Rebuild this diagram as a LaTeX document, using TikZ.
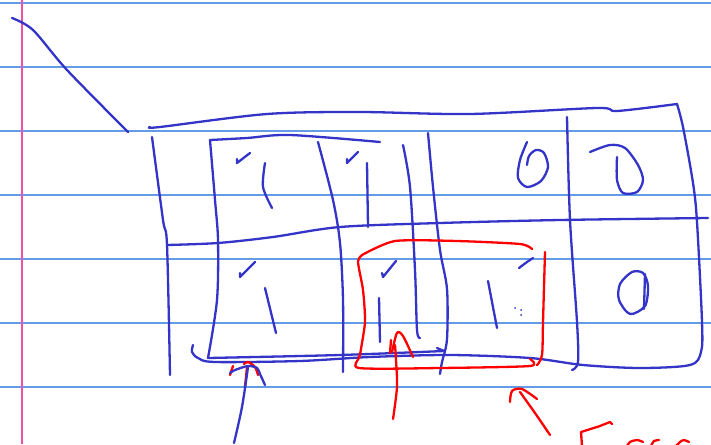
\documentclass[tikz,border=0pt]{standalone}
\definecolor{inkblue}{RGB}{52,52,200}
\definecolor{inkred}{RGB}{255,0,0}
\definecolor{ruleblue}{RGB}{100,155,230}
\definecolor{marginpink}{RGB}{240,80,170}
\begin{document}
\begin{tikzpicture}[x=1pt,y=-1pt,
  ink/.style={draw=inkblue,line width=2.3pt,line cap=round,line join=round},
  rink/.style={draw=inkred,line width=2.3pt,line cap=round,line join=round},
  ruled/.style={draw=ruleblue,line width=1.3pt},
  marginline/.style={draw=marginpink,line width=1.8pt}]
\useasboundingbox (0,0) rectangle (711,444);
\fill[white] (0,0) rectangle (711,444);
% paper
\foreach \y in {3,67,131,195,259,323,387} \draw[ruled] (0,\y) -- (711,\y);
\draw[marginline] (22,0) -- (22,444);

% diagonal stroke
\draw[ink] plot[smooth] coordinates {(12,18) (33,30) (67,70) (128,132)};

% outer box: top, right side and bottom
\draw[ink] plot[smooth] coordinates {(150,127) (160,127) (267,114) (360,112) (470,114) (597,108) (617,111) (677,104)};
\draw[ink] plot[smooth,tension=0.5] coordinates {(677,104) (683,127) (693,183) (697,222) (702,322) (701,352) (690,365) (640,368) (583,365) (530,358) (450,355) (370,357) (300,361) (215,362) (198,358) (192,352) (193,345)};
% outer left side
\draw[ink] plot[smooth] coordinates {(152,137) (163,220) (167,245) (170,375)};
% middle horizontal
\draw[ink] plot[smooth] coordinates {(167,245) (218,243) (273,237) (340,227) (440,223) (560,220) (708,218)};

% inner box
\draw[ink] plot[smooth] coordinates {(210,140) (247,138) (290,135) (380,142)};
\draw[ink] plot[smooth] coordinates {(210,140) (215,200) (218,240) (217,300) (208,358)};
\draw[ink] plot[smooth] coordinates {(208,358) (340,355) (444,351)};
\draw[ink] (437,348) -- (444,351);

% vertical dividers
\draw[ink] plot[smooth] coordinates {(318,142) (333,200) (340,243) (343,300) (343,372)};
\draw[ink] (367,163) -- (368,227);
\draw[ink] plot[smooth] coordinates {(403,145) (410,187) (415,270) (417,330) (420,338)};
\draw[ink] plot[smooth] coordinates {(428,133) (433,187) (440,250) (447,289) (447,339) (442,362) (440,374)};
\draw[ink] plot[smooth] coordinates {(567,117) (570,220) (577,322) (578,362) (572,370)};

% check marks
\draw[ink] (237,159) -- (237,163) -- (250,153);
\draw[ink] (347,159) -- (347,163) -- (358,152);
\draw[ink] (240,273) -- (240,277) -- (255,262);
\draw[ink] (382,273) -- (383,277) -- (396,261);
\draw[ink] plot[smooth] coordinates {(519,268) (527,262) (533,258)};

% ones
\draw[ink] plot[smooth] coordinates {(265,163) (263,187) (272,208)};
\draw[ink] (265,288) -- (276,333);
\draw[ink] (379,298) -- (380,342);
\draw[ink] (488,281) -- (497,328);
\fill[inkblue] (515,308) circle (1pt) (521,310) circle (1pt) (521,315) circle (1pt);

% zeros
\draw[ink] plot[smooth] coordinates {(527,142) (520,160) (518,178) (527,187) (541,181) (548,167) (544,153) (536,150) (529,156) (527,165)};
\draw[ink] plot[smooth] coordinates {(590,152) (610,145) (625,148) (638,165) (643,180) (637,192) (623,193) (617,180) (617,157)};
\draw[ink] plot[smooth cycle] coordinates {(632,272) (620,284) (619,300) (630,314) (645,306) (648,286) (643,273)};
\draw[ink] (645,274) -- (644,309);

% red box
\draw[rink] plot[smooth,tension=0.4] coordinates {(532,249) (520,244) (457,241) (395,241) (362,255)};
\draw[rink] plot[smooth,tension=0.4] coordinates {(362,255) (358,262) (363,290) (365,322) (360,355) (359,368) (440,368) (530,366) (530,359)};
\draw[rink] plot[smooth] coordinates {(545,252) (543,322) (542,355) (537,365)};

% red middle arrow
\draw[rink] plot[smooth] coordinates {(393,419) (397,387) (396,360) (395,345)};
\draw[rink] (390,353) -- (391,340);
\draw[rink] plot[smooth] coordinates {(392,352) (397,333) (403,336) (413,357)};

% blue left arrow with red marks
\draw[rink] (230,375) -- (233,366);
\draw[rink] plot[smooth] coordinates {(244,364) (248,362) (255,367) (258,375)};
\draw[rink] (245,387) -- (247,367);
\draw[ink] plot[smooth] coordinates {(234,443) (242,407) (248,367)};
\draw[ink] plot[smooth] coordinates {(230,373) (235,370) (248,366) (257,368) (260,374) (265,385)};

% red bottom-right arrow
\draw[rink] plot[smooth] coordinates {(550,435) (535,413) (520,392)};
\draw[rink] plot[smooth] coordinates {(510,402) (512,391) (522,389) (537,399)};

% red handwriting (cut off)
\draw[rink] (582,446) -- (581,432) -- (600,426) -- (610,422) -- (612,424);
\draw[rink] plot[smooth] coordinates {(627,446) (630,442) (637,440) (643,442)};
\draw[rink] plot[smooth] coordinates {(651,446) (654,441) (659,440)};
\draw[rink] plot[smooth] coordinates {(676,446) (680,442) (684,440) (689,442)};
\end{tikzpicture}
\end{document}
